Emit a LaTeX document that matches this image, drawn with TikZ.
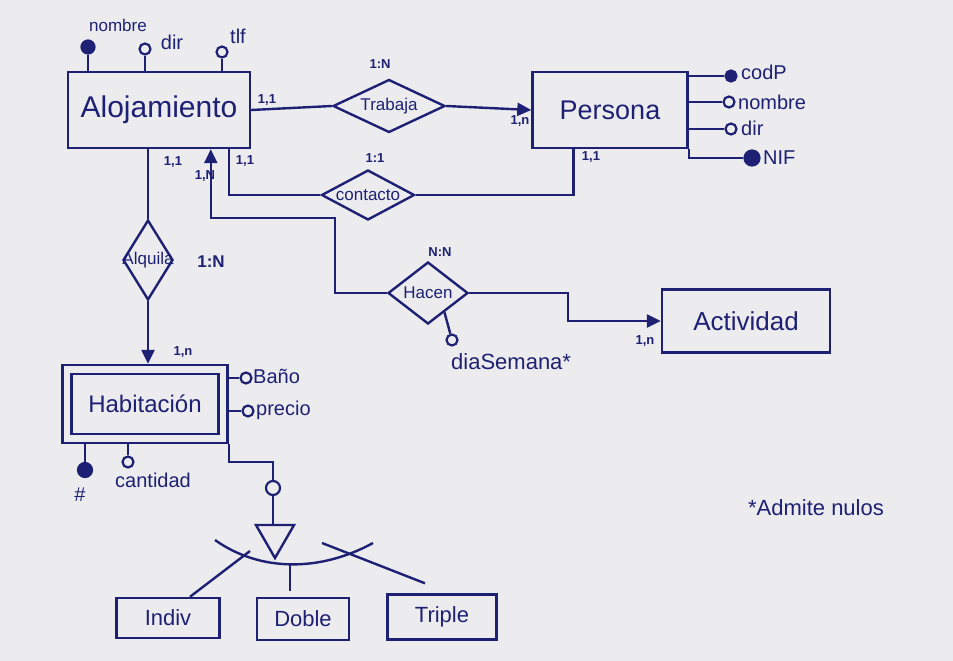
\documentclass[tikz,border=0pt]{standalone}
\usepackage{fontspec}
\setmainfont{Liberation Sans}
\usetikzlibrary{shapes.geometric,arrows.meta,calc}
\definecolor{ink}{RGB}{30,32,115}
\definecolor{paper}{RGB}{236,236,239}
\begin{document}
\begin{tikzpicture}[x=1pt,y=-1pt,
  ent/.style={draw=ink, line width=2.4pt, rectangle, inner sep=0pt, text=ink, font=\fontsize{26}{30}\selectfont},
  rel/.style={draw=ink, diamond, line width=2.4pt, inner sep=0pt, text=ink},
  rtext/.style={label={[text=ink, font=\fontsize{17}{20}\selectfont]center:#1}},
  attr/.style={circle, draw=ink, line width=2.2pt, inner sep=0pt, minimum size=11pt},
  keyattr/.style={attr, fill=ink},
  lbl/.style={text=ink, font=\fontsize{20}{24}\selectfont, inner sep=1pt},
  card/.style={text=ink, font=\fontsize{13}{15}\selectfont\bfseries, inner sep=1pt},
  link/.style={draw=ink, line width=2.4pt},
  arr/.style={link, -{Triangle[length=14pt,width=13pt]}}
]
\fill[paper] (0,0) rectangle (953,661);
\useasboundingbox (0,0) rectangle (953,661);

% entities
\node[ent, minimum width=182pt, minimum height=76pt, font=\fontsize{30}{34}\selectfont] (aloj) at (159,110) {Alojamiento};
\node[ent, minimum width=155pt, minimum height=76pt, font=\fontsize{27}{30}\selectfont] (pers) at (610,110) {Persona};
\node[ent, minimum width=168pt, minimum height=63pt] (act) at (746,321) {Actividad};
\node[ent, minimum width=165pt, minimum height=78pt] (hab) at (145,404) {};
\node[ent, minimum width=147pt, minimum height=60pt, font=\fontsize{24}{28}\selectfont] (habi) at (hab) {Habitación};
\node[ent, minimum width=103pt, minimum height=40pt, font=\fontsize{22}{26}\selectfont] (indiv) at (168,618) {Indiv};
\node[ent, minimum width=92pt, minimum height=42pt, font=\fontsize{22}{26}\selectfont] (doble) at (303,619) {Doble};
\node[ent, minimum width=109pt, minimum height=45pt, font=\fontsize{22}{26}\selectfont] (triple) at (442,617) {Triple};

% relationships
\node[rel, minimum width=112pt, minimum height=53pt, rtext=Trabaja] (trab) at (389,106) {};
\node[rel, minimum width=93pt, minimum height=50pt, rtext=contacto] (cont) at (368,195) {};
\node[rel, minimum width=50pt, minimum height=80pt, rtext=Alquila] (alq) at (148,260) {};
\node[rel, minimum width=80pt, minimum height=62pt, rtext=Hacen] (hacen) at (428,293) {};

% cardinalities
\node[card] (c1) at (267,100) {1,1};
\node[card] (c2) at (380,64) {1:N};
\node[card] (c3) at (520,121) {1,n};
\node[card] (c4) at (375,158) {1:1};
\node[card] (c5) at (245,161) {1,1};
\node[card] (c6) at (591,157) {1,1};
\node[card] (c7) at (173,162) {1,1};
\node[card] (c8) at (205,176) {1,N};
\node[card, font=\fontsize{17}{20}\selectfont\bfseries] (c9) at (211,262) {1:N};
\node[card] (c10) at (183,352) {1,n};
\node[card] (c11) at (440,252) {N:N};
\node[card] (c12) at (645,341) {1,n};

% connectors
\draw[link] (aloj.east) -- (trab.west);
\draw[arr] (trab.east) -- (pers.west);
\coordinate (cA) at ($(aloj.south west)+(162,0)$);
\coordinate (cP) at ($(pers.south west)+(42,0)$);
\draw[link] (cA) |- (cont.west);
\draw[link] (cont.east) -| (cP);
\draw[link] (alq.north |- aloj.south) -- (alq.north);
\draw[arr] (alq.south) -- (alq.south |- hab.north);
\coordinate (hbend) at (335,218);
\coordinate (hA) at ($(aloj.south west)+(144,0)$);
\draw[arr] (hacen.west) -| (hbend) -| (hA);
\coordinate (abend) at (568,310);
\draw[arr] (hacen.east) -| (abend) |- (act.west);
\node[attr] (dia) at (452,340) {};
\draw[link] ($(hacen.south)!0.4!(hacen.east)$) -- (dia);
\node[lbl, anchor=west, font=\fontsize{22}{26}\selectfont] (diaL) at (450,362) {diaSemana*};

% Alojamiento attributes
\node[keyattr, minimum size=13pt] (anom) at (88,47) {};
\draw[link] (anom) -- (anom |- aloj.north);
\node[lbl, font=\fontsize{17}{20}\selectfont] (anomL) at (118,25) {nombre};
\node[attr] (adir) at (145,49) {};
\draw[link] (adir) -- (adir |- aloj.north);
\node[lbl] (adirL) at (172,42) {dir};
\node[attr] (atlf) at (222,52) {};
\draw[link] (atlf) -- (atlf |- aloj.north);
\node[lbl] (atlfL) at (238,36) {tlf};

% Persona attributes
\node[keyattr] (pcod) at (731,76) {};
\draw[link] (pcod) -- (pcod -| pers.east);
\node[lbl, anchor=west] (pcodL) at (740,72) {codP};
\node[attr] (pnom) at (729,102) {};
\draw[link] (pnom) -- (pnom -| pers.east);
\node[lbl, anchor=west] (pnomL) at (737,102) {nombre};
\node[attr] (pdir) at (731,129) {};
\draw[link] (pdir) -- (pdir -| pers.east);
\node[lbl, anchor=west] (pdirL) at (740,128) {dir};
\node[keyattr, minimum size=15pt] (pnif) at (752,158) {};
\draw[link] (pers.south east) |- (pnif);
\node[lbl, anchor=west] (pnifL) at (762,158) {NIF};

% Habitacion attributes
\node[attr] (hban) at (246,378) {};
\draw[link] (hban) -- (hban -| hab.east);
\node[lbl, anchor=west] (hbanL) at (252,376) {Baño};
\node[attr] (hpre) at (248,411) {};
\draw[link] (hpre) -- (hpre -| hab.east);
\node[lbl, anchor=west] (hpreL) at (255,410) {precio};
\node[keyattr, minimum size=14pt] (hnum) at (85,470) {};
\draw[link] (hnum) -- (hnum |- hab.south);
\node[lbl] (hnumL) at (80,495) {\#};
\node[attr] (hcan) at (128,462) {};
\draw[link] (hcan) -- (hcan |- hab.south);
\node[lbl, anchor=west] (hcanL) at (114,480) {cantidad};

% specialisation
\node[attr, minimum size=14pt] (isac) at (273,488) {};
\coordinate (ib) at (273,462);
\draw[link] (hab.south east) |- (ib) -- (isac);
\node[draw=ink, line width=2.4pt, regular polygon, regular polygon sides=3, shape border rotate=180, minimum size=44pt, inner sep=0pt] (tri) at (275,536) {};
\draw[link] (isac) -- (isac |- tri.north);
\draw[link] (215,540) .. controls (260,572) and (320,572) .. (373,543);
\coordinate (xi) at (250,551);
\coordinate (xd) at (290,565);
\coordinate (xt) at (322,543);
\draw[link] ($(indiv.north)+(22,0)$) -- (xi);
\draw[link] (xd) -- ($(doble.north)+(-13,-6)$);
\draw[link] (xt) -- ($(triple.north)+(-17,-10)$);

% note
\node[lbl, font=\fontsize{22}{26}\selectfont] (note) at (816,508) {*Admite nulos};
\end{tikzpicture}
\end{document}
